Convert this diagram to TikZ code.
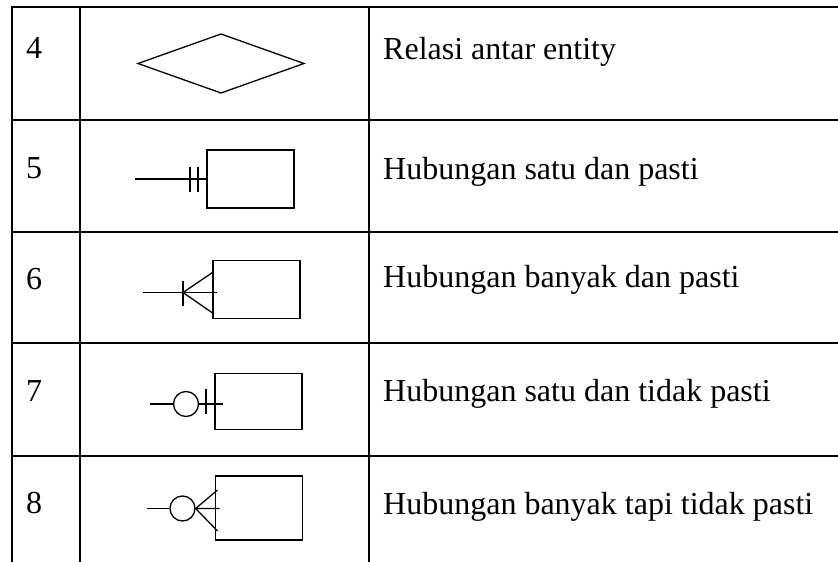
\documentclass[tikz,border=0pt]{standalone}
\usepackage{fontspec}
\setmainfont{Liberation Serif}
\usetikzlibrary{positioning}

\begin{document}
\begin{tikzpicture}[x=1pt,y=-1pt,
    grid/.style={line width=2pt},
    sym/.style={line width=1.3pt},
    entity/.style={draw,sym,rectangle,inner sep=0pt,minimum width=87pt,minimum height=58pt},
    opt/.style={draw,sym,circle,inner sep=0pt,minimum size=25pt},
    cell/.style={anchor=base west,inner sep=0pt,font=\fontsize{32}{38}\selectfont}]
\useasboundingbox (0,0) rectangle (838,562);
% table
\draw[grid] (838,7) -- (12,7) -- (12,562);
\draw[grid] (80,7) -- (80,562) (369,7) -- (369,562);
\foreach \y in {120,232,343,456}
    \draw[grid] (12,\y) -- (838,\y);
% numbers and descriptions
\node[cell] (n4) at (26,58) {4};
\node[cell] (n5) at (26,178.5) {5};
\node[cell] (n6) at (26,289) {6};
\node[cell] (n7) at (26,401.5) {7};
\node[cell] (n8) at (26,513.5) {8};
\node[cell] (d4) at (383,59) {Relasi antar entity};
\node[cell] (d5) at (383,179) {Hubungan satu dan pasti};
\node[cell] (d6) at (383,287.5) {Hubungan banyak dan pasti};
\node[cell] (d7) at (383,401.5) {Hubungan satu dan tidak pasti};
\node[cell] (d8) at (383,514) {Hubungan banyak tapi tidak pasti};
% 4: relasi
\draw[sym] (138,63.5) -- (221,34) -- (304,63.5) -- (221,93) -- cycle;
% 5: satu dan pasti
\node[entity] (e5) at (250.5,179) {};
\coordinate (l5) at (135,179);
\draw[sym] (l5) -- (e5.west);
\draw[sym] (190,167) -- (190,192) (198,167) -- (198,192);
% 6: banyak dan pasti
\node[entity] (e6) at (256.5,289.5) {};
\coordinate (l6) at (143,292.5);
\coordinate (k6) at (183,292.5);
\draw[sym] (l6) -- (217,292.5);
\draw[sym] (183,281) -- (183,306);
\draw[sym] (214,271.5) -- (k6) -- (214,314);
% 7: satu dan tidak pasti
\node[entity,minimum height=56pt] (e7) at (258.5,401.5) {};
\node[opt] (c7) at (186,404) {};
\coordinate (l7) at (150,404);
\draw[sym] (l7) -- (c7.west);
\draw[sym] (c7.east) -- (223,404);
\draw[sym] (206,389) -- (206,414);
% 8: banyak tapi tidak pasti
\node[entity,minimum height=64pt] (e8) at (259,508) {};
\node[opt] (c8) at (182.5,508.5) {};
\coordinate (l8) at (146.5,508.5);
\draw[sym] (l8) -- (c8.west);
\draw[sym] (217.5,490) -- (c8.east) -- (217.5,531) (c8.east) -- (219.5,508.5);
\end{tikzpicture}
\end{document}
